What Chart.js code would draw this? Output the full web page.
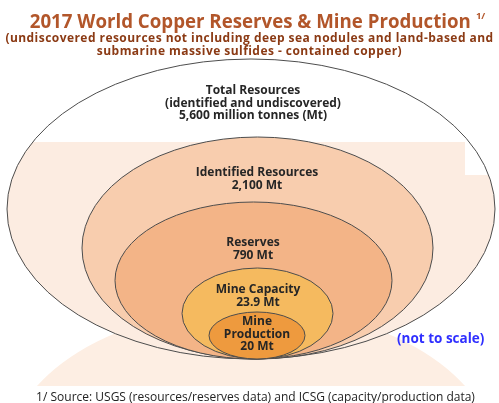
<!DOCTYPE html>
<html lang="en">
<head>
    <meta charset="UTF-8">
    <title>2017 World Copper Reserves & Mine Production</title>
    <script src="https://cdn.jsdelivr.net/npm/chart.js"></script>
    <style>
        body { margin: 0; background: #fff; font-family: "Open Sans", sans-serif; }
        .wrap { position: relative; width: 499px; height: 403px; overflow: hidden; }
        canvas { position: absolute; left: 0; top: 0; }
        .txt { position: absolute; left: 0; width: 499px; text-align: center; font-weight: bold; white-space: nowrap; }
        .title { top: 6px; left: 8px; font-size: 18.7px; line-height: 24px; color: #b2562a; }
        .title sup { font-size: 9.5px; position: relative; top: -2px; margin-left: 5px; }
        .sub { top: 32px; font-size: 12px; line-height: 12.5px; color: #8b3a14; letter-spacing: 0.45px; }
        .note { top: 329px; left: 397px; width: auto; font-size: 13.5px; color: #2f2fff; }
        .foot { top: 388px; left: 6px; font-size: 12px; font-weight: normal; color: #222; }
    </style>
</head>
<body>
<div class="wrap">
    <canvas id="copperChart" width="499" height="403"></canvas>
    <div class="txt title">2017 World Copper Reserves &amp; Mine Production<sup>1/</sup></div>
    <div class="txt sub">(undiscovered resources not including deep sea nodules and land-based and<br>submarine massive sulfides - contained copper)</div>
    <div class="txt note">(not to scale)</div>
    <div class="txt foot">1/ Source: USGS (resources/reserves data) and ICSG (capacity/production data)</div>
</div>

<script>
// data
const tiers = ["Total Resources", "Identified Resources", "Reserves", "Mine Capacity", "Mine Production"];
const tonnesMt = [5600, 2100, 790, 23.9, 20];
const valueLabels = ["5,600 million tonnes (Mt)", "2,100 Mt", "790 Mt", "23.9 Mt", "20 Mt"];

// label lines per tier
const labelLines = [
    [tiers[0], "(identified and undiscovered)", valueLabels[0]],
    [tiers[1], valueLabels[1]],
    [tiers[2], valueLabels[2]],
    [tiers[3], valueLabels[3]],
    ["Mine", "Production", valueLabels[4]]
];

// drawing layout (diagram is not to scale) - axis units
const layout = [
    { left: 7,   right: 495, top: 59,  bottom: 359, tx: 253, ty: 91,  fill: "#fcece1" },
    { left: 82,  right: 433, top: 137, bottom: 359, tx: 257, ty: 173, fill: "#f8cdae" },
    { left: 115, right: 392, top: 202, bottom: 359, tx: 253, ty: 243, fill: "#f3b487" },
    { left: 182, right: 333, top: 268, bottom: 359, tx: 258, ty: 290, fill: "#f5ba5f" },
    { left: 209, right: 305, top: 312, bottom: 359, tx: 257, ty: 322, fill: "#ee9a3e" }
];

const ellipsePlugin = {
    id: "ellipses",
    beforeDatasetsDraw(chart) {
        const ctx = chart.ctx;
        const xs = chart.scales.x, ys = chart.scales.y;
        const box = (l) => {
            const x1 = xs.getPixelForValue(l.left), x2 = xs.getPixelForValue(l.right);
            const y1 = ys.getPixelForValue(l.top), y2 = ys.getPixelForValue(l.bottom);
            return { cx: (x1 + x2) / 2, cy: (y1 + y2) / 2, rx: Math.abs(x2 - x1) / 2, ry: Math.abs(y2 - y1) / 2 };
        };

        ctx.save();
        // faded reflection below the outer ellipse
        const o = box(layout[0]);
        ctx.save();
        ctx.beginPath();
        ctx.rect(0, 0, chart.width, ys.getPixelForValue(386));
        ctx.clip();
        ctx.beginPath();
        ctx.ellipse(o.cx, o.cy + 249, o.rx, o.ry, 0, 0, Math.PI * 2);
        ctx.fillStyle = "#fdeee3";
        ctx.fill();
        ctx.restore();

        tiers.forEach((t, i) => {
            const e = box(layout[i]);
            ctx.beginPath();
            ctx.ellipse(e.cx, e.cy, e.rx, e.ry, 0, 0, Math.PI * 2);
            if (i === 0) {
                ctx.fillStyle = "#fff";
                ctx.fill();
                ctx.save();
                ctx.clip();
                ctx.fillStyle = layout[0].fill;
                ctx.fillRect(0, ys.getPixelForValue(142), xs.getPixelForValue(465), chart.height);
                ctx.fillRect(0, ys.getPixelForValue(175), chart.width, chart.height);
                ctx.restore();
            } else {
                ctx.fillStyle = layout[i].fill;
                ctx.fill();
            }
            ctx.lineWidth = 1;
            ctx.strokeStyle = "#4d4d4d";
            ctx.stroke();
        });

        // tier labels
        ctx.fillStyle = "#262626";
        ctx.font = "bold 12px 'Open Sans', sans-serif";
        ctx.textAlign = "center";
        ctx.textBaseline = "middle";
        labelLines.forEach((lines, i) => {
            const x = xs.getPixelForValue(layout[i].tx);
            lines.forEach((s, k) => {
                ctx.fillText(s, x, ys.getPixelForValue(layout[i].ty + k * 12.5));
            });
        });
        ctx.restore();
    }
};

new Chart(document.getElementById("copperChart"), {
    type: "scatter",
    data: {
        labels: tiers,
        datasets: [{ label: "Copper (Mt)", data: [] }]
    },
    options: {
        responsive: false,
        animation: false,
        layout: { padding: 0 },
        plugins: { legend: { display: false }, tooltip: { enabled: false } },
        scales: {
            x: { type: "linear", min: 0, max: 499, display: false },
            y: { type: "linear", min: 0, max: 403, reverse: true, display: false }
        }
    },
    plugins: [ellipsePlugin]
});
</script>
</body>
</html>
